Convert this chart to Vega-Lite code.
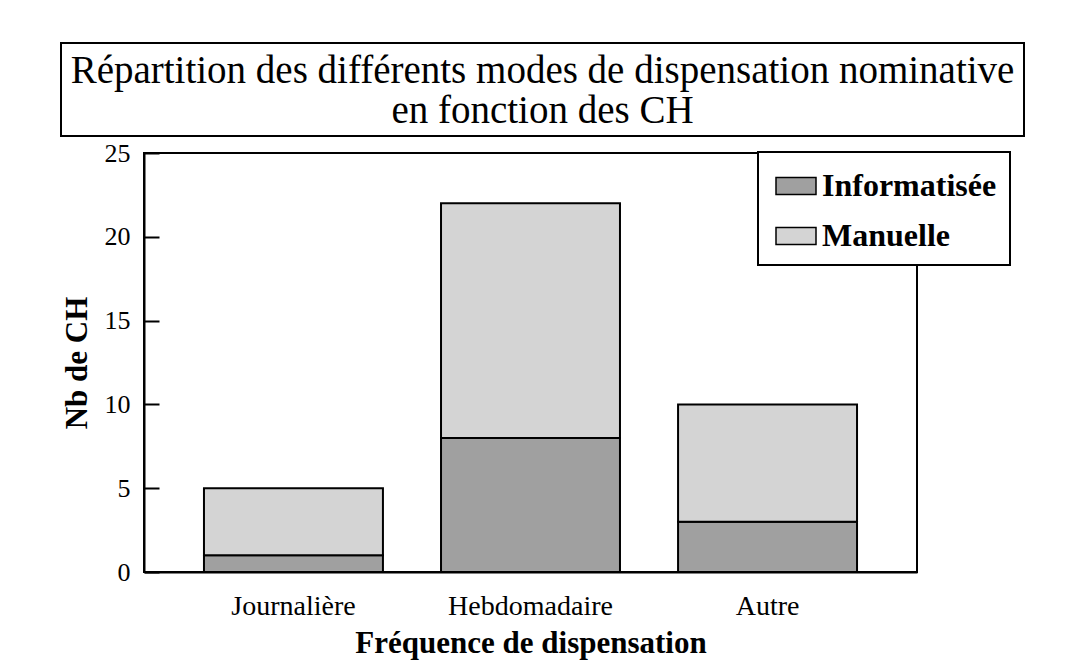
{
  "$schema": "https://vega.github.io/schema/vega-lite/v6.json",
  "autosize": {"type": "pad"},
  "padding": {"left": 60, "top": 42, "right": 10, "bottom": 10},
  "background": "white",
  "columns": 1,
  "center": true,
  "spacing": 2,
  "config": {
    "font": "Liberation Serif",
    "view": {"stroke": "black", "strokeWidth": 2}
  },
  "concat": [
    {
      "width": 963,
      "height": 93,
      "view": {"stroke": null},
      "data": {"values": [{"t": "title"}]},
      "layer": [
        {
          "mark": {"type": "rect", "fill": "white", "stroke": "black", "strokeWidth": 2},
          "encoding": {}
        },
        {
          "mark": {
            "type": "text",
            "text": ["Répartition des différents modes de dispensation nominative", "en fonction des CH"],
            "font": "Liberation Serif",
            "fontSize": 39,
            "lineHeight": 40,
            "baseline": "middle",
            "align": "center",
            "dy": -19,
            "color": "black"
          },
          "encoding": {}
        }
      ]
    },
    {
      "width": 773,
      "height": 419,
      "data": {
        "values": [
          {"freq": "Journalière", "mode": "Informatisée", "nb": 1, "ord": 1},
          {"freq": "Journalière", "mode": "Manuelle", "nb": 4, "ord": 2},
          {"freq": "Hebdomadaire", "mode": "Informatisée", "nb": 8, "ord": 1},
          {"freq": "Hebdomadaire", "mode": "Manuelle", "nb": 14, "ord": 2},
          {"freq": "Autre", "mode": "Informatisée", "nb": 3, "ord": 1},
          {"freq": "Autre", "mode": "Manuelle", "nb": 7, "ord": 2}
        ]
      },
      "resolve": {"axis": {"y": "independent"}},
      "layer": [
        {
          "mark": {"type": "bar", "stroke": "black", "strokeWidth": 2},
          "encoding": {
            "x": {
              "field": "freq",
              "type": "nominal",
              "sort": ["Journalière", "Hebdomadaire", "Autre"],
              "scale": {"paddingInner": 0.245, "paddingOuter": 0.253},
              "axis": {
                "title": "Fréquence de dispensation",
                "titleFont": "Liberation Serif",
                "titleFontSize": 31,
                "titleFontWeight": "bold",
                "titleColor": "black",
                "titlePadding": 8,
                "labelFont": "Liberation Serif",
                "labelFontSize": 28,
                "labelColor": "black",
                "labelAngle": 0,
                "labelPadding": 20,
                "ticks": false,
                "domainColor": "black",
                "domainWidth": 2
              }
            },
            "y": {
              "field": "nb",
              "type": "quantitative",
              "stack": "zero",
              "scale": {"domain": [0, 25], "nice": false},
              "axis": {
                "title": "Nb de CH",
                "titleFont": "Liberation Serif",
                "titleFontSize": 31,
                "titleFontWeight": "bold",
                "titleColor": "black",
                "titlePadding": 11,
                "values": [0, 5, 10, 15, 20, 25],
                "labelFont": "Liberation Serif",
                "labelFontSize": 26,
                "labelColor": "black",
                "labelPadding": 29,
                "tickSize": -15,
                "tickColor": "black",
                "tickWidth": 2,
                "domainColor": "black",
                "domainWidth": 2,
                "grid": false
              }
            },
            "color": {
              "field": "mode",
              "type": "nominal",
              "scale": {"domain": ["Informatisée", "Manuelle"], "range": ["#a0a0a0", "#d4d4d4"]},
              "legend": {
                "title": null,
                "orient": "none",
                "legendX": 697,
                "legendY": 109,
                "strokeColor": "black",
                "fillColor": "white",
                "padding": 13,
                "rowPadding": 13,
                "symbolOffset": 4,
                "symbolType": "M-1,-0.425H1V0.425H-1Z",
                "symbolSize": 1600,
                "symbolStrokeColor": "black",
                "symbolStrokeWidth": 1.5,
                "labelFont": "Liberation Serif",
                "labelFontSize": 32,
                "labelFontWeight": "bold",
                "labelColor": "black",
                "labelLimit": 400,
                "labelOffset": 5,
                "encode": {"legend": {"update": {"strokeWidth": {"value": 2}}}}
              }
            },
            "order": {"field": "ord", "type": "quantitative"}
          }
        },
        {
          "mark": {"type": "point", "opacity": 0},
          "encoding": {
            "y": {
              "field": "nb",
              "type": "quantitative",
              "scale": {"domain": [0, 25], "nice": false},
              "axis": {
                "orient": "right",
                "title": null,
                "values": [0, 5, 10, 15, 20, 25],
                "labelOpacity": 0,
                "labelFontSize": 22,
                "labelPadding": 2,
                "ticks": false,
                "domain": false,
                "grid": false
              }
            }
          }
        }
      ]
    }
  ]
}
